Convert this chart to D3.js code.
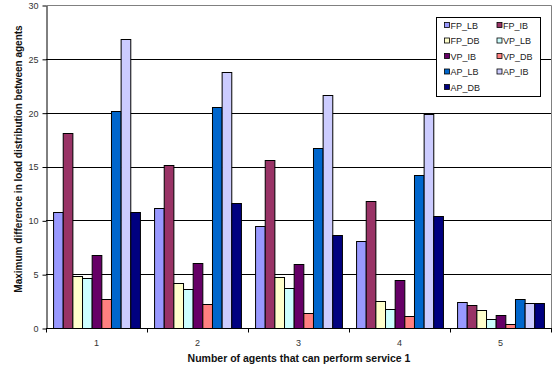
<!DOCTYPE html>
<html>
<head>
<meta charset="utf-8">
<script src="https://cdn.jsdelivr.net/npm/d3@7"></script>
<style>
  html, body { margin: 0; padding: 0; background: #fff; }
  svg { display: block; font-family: "Liberation Sans", Arial, sans-serif; }
</style>
</head>
<body>
<svg id="chart" width="556" height="367"></svg>
<script>
// Number of agents able to perform service 1
const categories = ["1", "2", "3", "4", "5"];
const seriesNames = ["FP_LB", "FP_IB", "FP_DB", "VP_LB", "VP_IB", "VP_DB", "AP_LB", "AP_IB", "AP_DB"];
const seriesColors = ["#9999FF", "#993366", "#FFFFCC", "#CCFFFF", "#660066", "#FF8080", "#0066CC", "#CCCCFF", "#000080"];
// values[series][category]
const FP_LB = [10.8, 11.1, 9.5, 8.1, 2.4];
const FP_IB = [18.1, 15.1, 15.6, 11.8, 2.1];
const FP_DB = [4.8, 4.2, 4.7, 2.5, 1.7];
const VP_LB = [4.6, 3.6, 3.7, 1.8, 0.8];
const VP_IB = [6.8, 6.0, 5.9, 4.5, 1.2];
const VP_DB = [2.7, 2.2, 1.4, 1.1, 0.4];
const AP_LB = [20.2, 20.5, 16.7, 14.2, 2.7];
const AP_IB = [26.8, 23.8, 21.6, 19.9, 2.35];
const AP_DB = [10.8, 11.6, 8.6, 10.4, 2.3];
const yTicks = [0, 5, 10, 15, 20, 25, 30];

const seriesValues = [FP_LB, FP_IB, FP_DB, VP_LB, VP_IB, VP_DB, AP_LB, AP_IB, AP_DB];

const svg = d3.select("#chart");
const plot = { left: 46, right: 551, top: 5, bottom: 328 };

const x = d3.scaleBand().domain(categories)
  .range([plot.left, plot.right]).paddingInner(0.14).paddingOuter(0.07);
const xs = d3.scaleBand().domain(seriesNames).range([0, x.bandwidth()]).padding(0);
const y = d3.scaleLinear().domain([0, 30]).range([plot.bottom, plot.top]);

// plot frame (top and right edges)
svg.append("path")
  .attr("d", `M${plot.left},${plot.top}H${plot.right}V${plot.bottom}`)
  .attr("fill", "none").attr("stroke", "#808080").attr("stroke-width", 1)
  .attr("transform", "translate(0.5,0.5)");

// horizontal gridlines
svg.append("g").selectAll("line")
  .data(yTicks.filter(t => t > 0 && t < 30))
  .join("line")
  .attr("x1", plot.left).attr("x2", plot.right)
  .attr("y1", d => Math.round(y(d)) + 0.5).attr("y2", d => Math.round(y(d)) + 0.5)
  .attr("stroke", "#000").attr("stroke-width", 1);

// bars
const groups = svg.append("g").selectAll("g")
  .data(categories)
  .join("g")
  .attr("transform", d => `translate(${x(d)},0)`);

groups.selectAll("rect")
  .data((c, ci) => seriesNames.map((s, si) => ({ s, si, v: seriesValues[si][ci] })))
  .join("rect")
  .attr("x", d => xs(d.s) + 0.5)
  .attr("y", d => Math.round(y(d.v)) + 0.5)
  .attr("width", xs.bandwidth())
  .attr("height", d => Math.round(y(0)) - Math.round(y(d.v)))
  .attr("fill", d => seriesColors[d.si])
  .attr("stroke", "#000").attr("stroke-width", 1);

// y axis
const yAxis = svg.append("g")
  .attr("transform", `translate(${plot.left + 0.5},0.5)`)
  .call(d3.axisLeft(y).tickValues(yTicks).tickSize(4).tickPadding(4).tickSizeOuter(0));
yAxis.select(".domain").attr("stroke", "#000");
yAxis.selectAll("text").attr("font-size", 9).attr("fill", "#333")
  .attr("font-family", "Liberation Sans, Arial, sans-serif");

// x axis with ticks at category boundaries
const xAxisG = svg.append("g").attr("transform", `translate(0,${plot.bottom + 0.5})`);
xAxisG.append("line").attr("x1", plot.left).attr("x2", plot.right + 1)
  .attr("stroke", "#000");
const boundaries = categories.map(c => x(c) - x.step() * x.paddingOuter()).concat([plot.right]);
xAxisG.selectAll(".tk").data(boundaries).join("line").attr("class", "tk")
  .attr("x1", d => Math.round(d) + 0.5).attr("x2", d => Math.round(d) + 0.5)
  .attr("y1", 0).attr("y2", 4).attr("stroke", "#000");
xAxisG.selectAll("text").data(categories).join("text")
  .attr("x", d => x(d) + x.bandwidth() / 2)
  .attr("y", 17)
  .attr("text-anchor", "middle")
  .attr("font-size", 9).attr("fill", "#333")
  .text(d => d);

// axis titles
svg.append("text")
  .attr("x", 299).attr("y", 362)
  .attr("text-anchor", "middle").attr("font-size", 10.5).attr("font-weight", "bold")
  .attr("fill", "#111")
  .text("Number of agents that can perform service 1");

svg.append("text")
  .attr("transform", `translate(22,${159}) rotate(-90)`)
  .attr("text-anchor", "middle").attr("font-size", 10).attr("font-weight", "bold")
  .attr("fill", "#111")
  .text("Maximum difference in load distribution between agents");

// legend
const legend = svg.append("g").attr("transform", "translate(436.5,17.5)");
legend.append("rect").attr("width", 104).attr("height", 79)
  .attr("fill", "#fff").attr("stroke", "#000");
const items = legend.selectAll("g").data(seriesNames).join("g")
  .attr("transform", (d, i) => `translate(${8 + (i % 2) * 52.5},${5 + Math.floor(i / 2) * 15.5})`);
items.append("rect").attr("width", 5).attr("height", 5)
  .attr("fill", (d, i) => seriesColors[i]).attr("stroke", "#000").attr("stroke-width", 0.8);
items.append("text").attr("x", 6).attr("y", 6)
  .attr("font-size", 9).attr("fill", "#222")
  .text(d => d);
</script>
</body>
</html>
